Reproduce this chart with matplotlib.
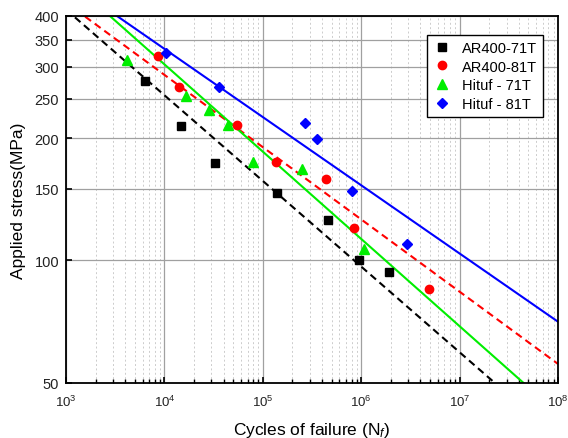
import numpy as np
import matplotlib
matplotlib.use("Agg")
import matplotlib.pyplot as plt
from matplotlib.ticker import FixedLocator, NullFormatter, NullLocator, LogLocator

plt.rcParams['font.family'] = ['Liberation Sans', 'DejaVu Sans']
plt.rcParams['mathtext.fontset'] = 'custom'
plt.rcParams['mathtext.rm'] = 'Liberation Sans'
plt.rcParams['mathtext.it'] = 'Liberation Sans:italic'

# data (cycles, stress MPa)
ar71_n = [6400, 14900, 32700, 139000, 464000, 951000, 1.92e6]
ar71_s = [277, 214, 174, 147, 126, 100, 93.5]

ar81_n = [8670, 14060, 54300, 136000, 435000, 845000, 4.89e6]
ar81_s = [319, 268, 215, 175, 159, 120, 85]

hi71_n = [4170, 16600, 28600, 44000, 80000, 248000, 1.07e6]
hi71_s = [311, 254, 235, 215, 175, 168, 107]

hi81_n = [10300, 36100, 270000, 353000, 806000, 2.9e6]
hi81_s = [325, 267, 218, 199, 148, 110]

# Basquin fit lines S = a * N^b
fit_a = [1782, 1476, 2203, 1560]
fit_b = [-0.211, -0.178, -0.215, -0.168]

labels = ['AR400-71T', 'AR400-81T', 'Hituf - 71T', 'Hituf - 81T']
yticks = [50, 100, 150, 200, 250, 300, 350, 400]

fig = plt.figure(figsize=(5.68, 4.39), dpi=100)
ax = fig.add_axes([0.1162, 0.126, 0.8662, 0.8353])
ax.set_xscale('log')
ax.set_yscale('log')
ax.set_xlim(1e3, 1e8)
ax.set_ylim(50, 400)

ax.yaxis.set_major_locator(FixedLocator(yticks))
ax.yaxis.set_minor_locator(NullLocator())
ax.set_yticklabels([str(t) for t in yticks])
ax.xaxis.set_major_locator(LogLocator(base=10))
ax.xaxis.set_minor_locator(LogLocator(base=10, subs=np.arange(2, 10)))
ax.xaxis.set_minor_formatter(NullFormatter())

ax.grid(True, which='major', color='#a0a0a0', lw=0.9)
ax.grid(True, which='minor', axis='x', color='#cccccc', lw=0.7, ls=(0, (2, 2.5)))
ax.set_axisbelow(True)

nn = np.logspace(3, 8, 200)
styles = [('k', (0, (3.5, 2.2))), ('#ff0000', (0, (3.5, 2.2))), ('#00ee00', '-'), ('#0000ff', '-')]
for (c, ls), a, b in zip(styles, fit_a, fit_b):
    ax.plot(nn, a * nn ** b, color=c, ls=ls, lw=1.5)

ax.plot(ar71_n, ar71_s, 's', color='k', ms=5.5, ls='none', label=labels[0])
ax.plot(ar81_n, ar81_s, 'o', color='#ff0000', ms=6, ls='none', label=labels[1])
ax.plot(hi71_n, hi71_s, '^', color='#00ee00', ms=7, ls='none', label=labels[2])
ax.plot(hi81_n, hi81_s, 'D', color='#0000ff', ms=5.5, ls='none', label=labels[3])

for sp in ax.spines.values():
    sp.set_linewidth(1.3)
ax.tick_params(which='both', direction='in', colors='k', labelcolor='#222222')
ax.tick_params(axis='y', labelsize=10.5, pad=5)
ax.tick_params(axis='x', labelsize=9.5, pad=8)
ax.tick_params(which='major', length=4.5, width=1.2)
ax.tick_params(which='minor', length=3, width=1)

ax.set_xlabel('Cycles of failure (N$_f$)', fontsize=12.5, labelpad=8)
ax.set_ylabel('Applied stress(MPa)', fontsize=12.5, labelpad=6)

leg = ax.legend(loc='upper right', bbox_to_anchor=(0.9695, 0.948), borderaxespad=0,
                fontsize=10.5, fancybox=False, framealpha=1, edgecolor='k',
                handlelength=1.2, handletextpad=0.8, borderpad=0.4, labelspacing=0.32)
leg.get_frame().set_linewidth(1.0)

fig.savefig('out.png', dpi=100)
